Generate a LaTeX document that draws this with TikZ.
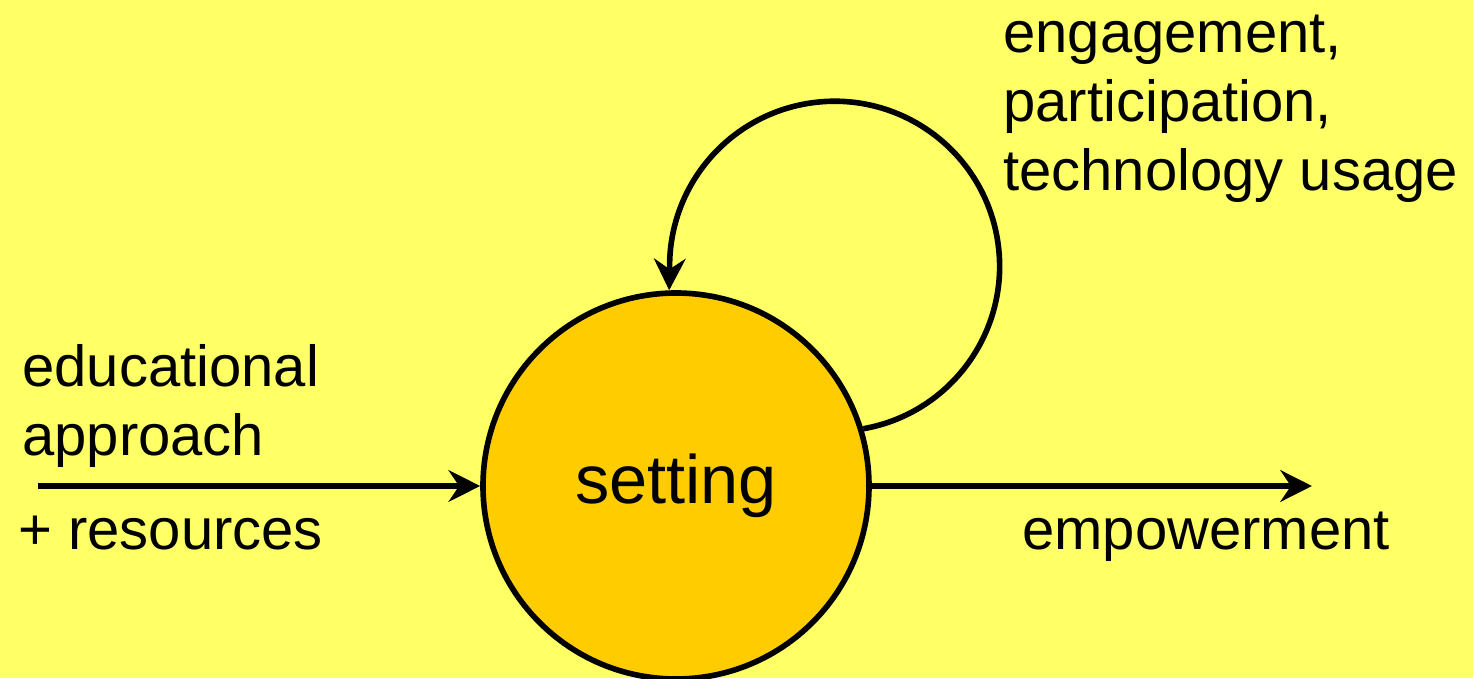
\documentclass[tikz,border=0pt]{standalone}
\usepackage{fontspec}
\setmainfont{Liberation Sans}
\usetikzlibrary{arrows.meta}
\definecolor{bgyellow}{RGB}{255,255,102}
\definecolor{discorange}{RGB}{255,204,0}

\begin{document}
\begin{tikzpicture}[
  flow/.style={line width=3.2pt, -{Stealth[length=18pt,width=18pt,inset=6pt]}},
  lbl/.style={inner sep=0pt, font=\fontsize{33}{39.5}\selectfont, align=left}
]
\fill[bgyellow] (0,0) rectangle (29.46,13.56);
\useasboundingbox (0,0) rectangle (29.46,13.56);

\node[circle, draw, line width=3.2pt, fill=discorange, minimum size=7.72cm, inner sep=0pt,
  font=\fontsize{39}{47}\selectfont] (setting) at (13.52,3.84) {setting};

\coordinate (in) at (0.76,3.84);
\coordinate (out) at (26.24,3.84);

\draw[flow] (in) -- (setting.west);
\draw[flow] (setting.east) -- (out);
\draw[flow] (setting.17) arc[start angle=-80, end angle=180, radius=3.3] -- (setting.92);

\node[lbl, anchor=base west] (loopl) at (20.06,9.74) {engagement,\\participation,\\technology usage};
\node[lbl, anchor=base west] (approach) at (0.44,4.44) {educational\\approach};
\node[lbl, anchor=base west] (res) at (0.36,2.56) {+ resources};
\node[lbl, anchor=base west] (emp) at (20.44,2.56) {empowerment};
\end{tikzpicture}
\end{document}
